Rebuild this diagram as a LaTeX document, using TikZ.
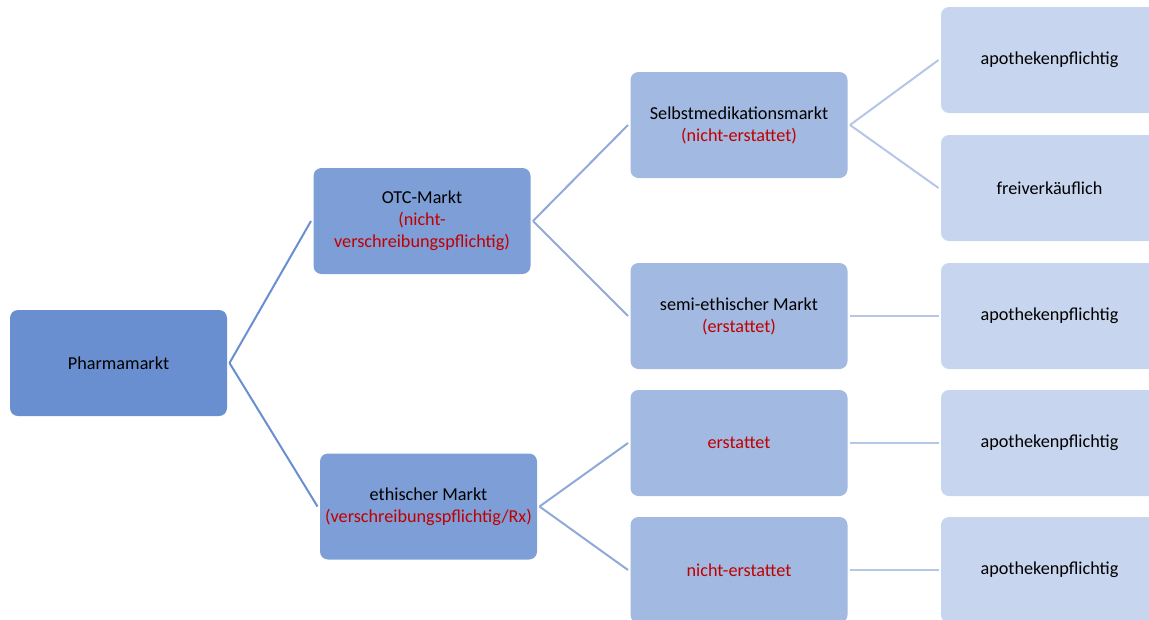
\documentclass[tikz,border=0pt]{standalone}
\usepackage{fontspec}
\setmainfont{Carlito}
\usepackage{xcolor}
\definecolor{lvA}{HTML}{6A8FD0}
\definecolor{lvB}{HTML}{7E9ED7}
\definecolor{lvC}{HTML}{A2B9E1}
\definecolor{lvD}{HTML}{C7D5EE}
\definecolor{lnA}{HTML}{6A8FD0}
\definecolor{lnB}{HTML}{8FA9DB}
\definecolor{lnC}{HTML}{B5C6E7}
\definecolor{redtxt}{HTML}{C00000}
\begin{document}
\begin{tikzpicture}[x=1pt,y=-1pt,
  box/.style={rectangle, rounded corners=8pt, minimum width=217pt, minimum height=106pt,
    align=center, inner sep=2pt, outer sep=2.5pt, text=black,
    font=\fontsize{18.2}{22}\selectfont},
  boxA/.style={box, fill=lvA},
  boxB/.style={box, fill=lvB},
  boxC/.style={box, fill=lvC},
  boxD/.style={box, fill=lvD},
  conn/.style={line width=2pt},
  red/.style={text=redtxt}
]
\useasboundingbox (0,0) rectangle (1149,619);
\clip (0,0) rectangle (1149,619);
\node[boxA] (pm) at (118.5,363) {Pharmamarkt};
\node[boxB] (otc) at (422,221) {OTC-Markt\\\textcolor{redtxt}{(nicht-}\\\textcolor{redtxt}{verschreibungspflichtig)}};
\node[boxB] (eth) at (428.5,506.5) {ethischer Markt\\\textcolor{redtxt}{(verschreibungspflichtig/Rx)}};
\node[boxC] (selbst) at (739,125) {Selbstmedikationsmarkt\\\textcolor{redtxt}{(nicht-erstattet)}};
\node[boxC] (semi) at (739,316) {semi-ethischer Markt\\\textcolor{redtxt}{(erstattet)}};
\node[boxC] (erst) at (739,443) {\textcolor{redtxt}{erstattet}};
\node[boxC] (nicht) at (739,570) {\textcolor{redtxt}{nicht-erstattet}};
\node[boxD] (a1) at (1049.5,60) {apothekenpflichtig};
\node[boxD] (frei) at (1049.5,188) {freiverkäuflich};
\node[boxD] (a2) at (1049.5,316) {apothekenpflichtig};
\node[boxD] (a3) at (1049.5,443) {apothekenpflichtig};
\node[boxD] (a4) at (1049.5,570) {apothekenpflichtig};
\draw[conn, lnA] (pm.east) -- (otc.west);
\draw[conn, lnA] (pm.east) -- (eth.west);
\draw[conn, lnB] (otc.east) -- (selbst.west);
\draw[conn, lnB] (otc.east) -- (semi.west);
\draw[conn, lnB] (eth.east) -- (erst.west);
\draw[conn, lnB] (eth.east) -- (nicht.west);
\draw[conn, lnC] (selbst.east) -- (a1.west);
\draw[conn, lnC] (selbst.east) -- (frei.west);
\draw[conn, lnC] (semi.east) -- (a2.west);
\draw[conn, lnC] (erst.east) -- (a3.west);
\draw[conn, lnC] (nicht.east) -- (a4.west);
\end{tikzpicture}
\end{document}
